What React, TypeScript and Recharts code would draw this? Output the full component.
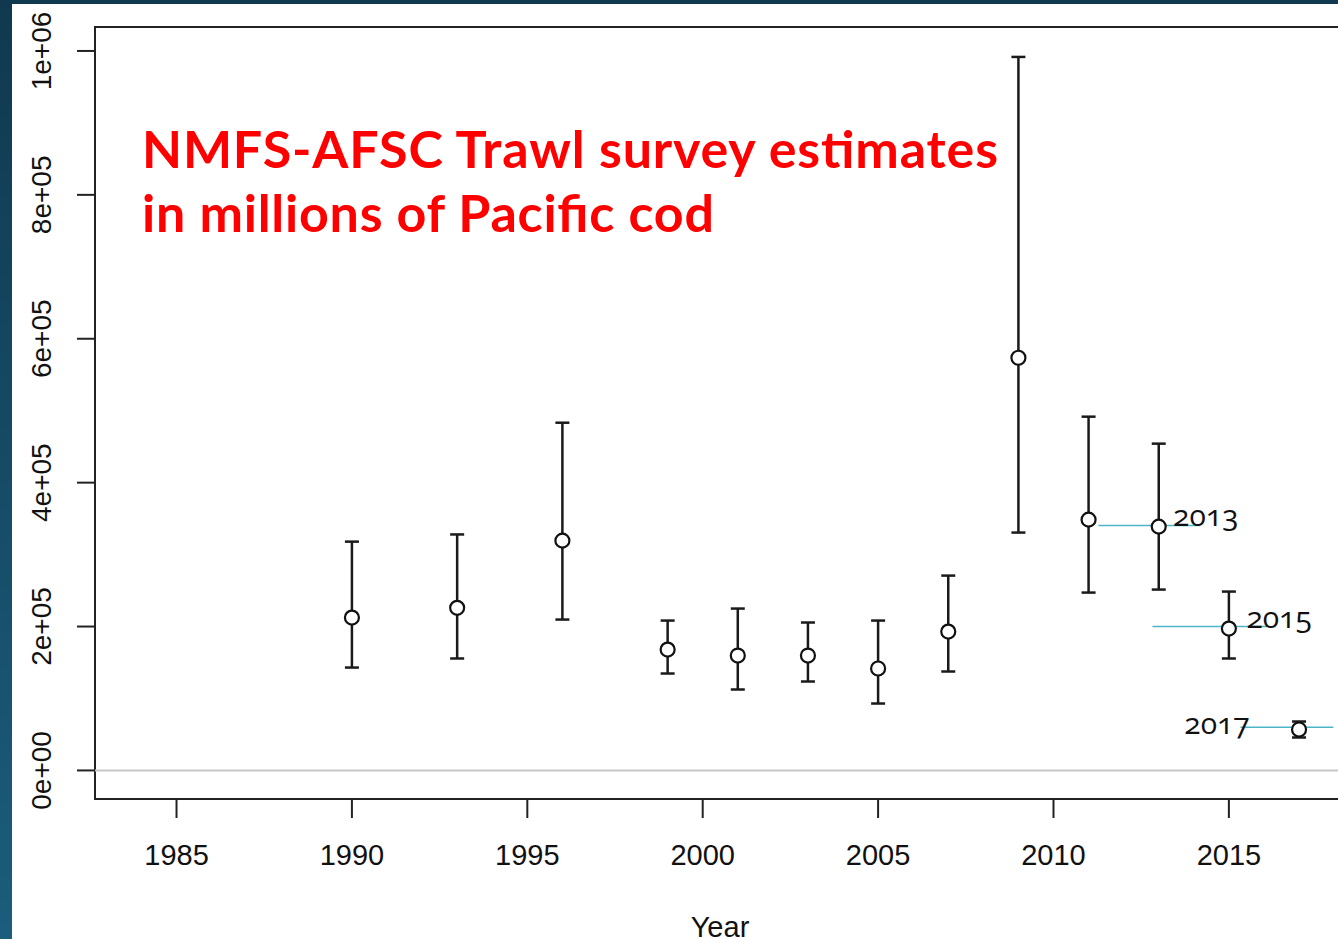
import React from "react";
import {
  ScatterChart,
  Scatter,
  XAxis,
  YAxis,
  ErrorBar,
  ReferenceLine,
  ReferenceArea,
} from "recharts";

// survey estimates (numbers of fish) with lower / upper interval
const years = [1990, 1993, 1996, 1999, 2001, 2003, 2005, 2007, 2009, 2011, 2013, 2015, 2017];
const estimates = [212500, 226000, 319400, 168000, 159700, 159700, 141700, 193000, 573600, 348600, 338900, 197200, 56900];
const lower = [143000, 155600, 209700, 134700, 112500, 123600, 93000, 137500, 330600, 247200, 251400, 155600, 45800];
const upper = [318000, 328000, 483300, 208300, 225000, 205600, 208300, 270800, 991700, 491700, 454200, 248600, 68000];

const xTicks = [1985, 1990, 1995, 2000, 2005, 2010, 2015];
const yTicks = [0, 200000, 400000, 600000, 800000, 1000000];
const yTickLabels = ["0e+00", "2e+05", "4e+05", "6e+05", "8e+05", "1e+06"];

// cyan guide lines drawn on the slide
const guideValues = [340300, 200000, 60100];
const guideFrom = [2011.28, 2012.82, 2015.33];
const guideTo = [2014.18, 2016.1, 2017.98];

// year labels written next to the last surveys
const noteText = ["2013", "2015", "2017"];
const noteYear = [2013.41, 2015.5, 2013.73];
const noteValue = [340000, 198600, 50000];

const titleLines = ["NMFS-AFSC Trawl survey estimates", "in millions of Pacific cod"];

const xDomain = [1982.676, 2018.31];
const yDomain = [-39700, 1033300];

const rows = years.map((year, i) => ({
  year,
  value: estimates[i],
  err: [estimates[i] - lower[i], upper[i] - estimates[i]],
}));

const notes = noteText.map((text, i) => ({ year: noteYear[i], value: noteValue[i], text }));

const axisFont = "'Liberation Sans', Arial, sans-serif";

function XTick(props: any) {
  const { x, y, payload } = props;
  return (
    <text x={x} y={y + 45} textAnchor="middle" fontSize={29} fontFamily={axisFont} fill="#111">
      {payload.value}
    </text>
  );
}

function YTick(props: any) {
  const { x, y, payload } = props;
  const bx = x - 24;
  const idx = yTicks.indexOf(payload.value);
  return (
    <text
      x={bx}
      y={y}
      transform={`rotate(-90, ${bx}, ${y})`}
      textAnchor="middle"
      fontSize={28}
      fontFamily={axisFont}
      fill="#111"
    >
      {yTickLabels[idx]}
    </text>
  );
}

function OpenPoint(props: any) {
  const { cx, cy } = props;
  return <circle cx={cx} cy={cy} r={7} fill="#fff" stroke="#111" strokeWidth={2.2} />;
}

function NoteText(props: any) {
  const { cx, cy, payload } = props;
  return (
    <text
      x={cx}
      y={cy}
      fontSize={30}
      fontFamily="'Open Sans', sans-serif"
      style={{ fontVariantNumeric: "oldstyle-nums" }}
      fill="#111"
    >
      {payload.text}
    </text>
  );
}

export default function App() {
  return (
    <div
      style={{
        position: "absolute",
        left: 0,
        top: 0,
        width: 1338,
        height: 939,
        overflow: "hidden",
        background: "linear-gradient(to bottom, #10394f, #1b5d7c)",
      }}
    >
      <div style={{ position: "absolute", left: 12, top: 4, right: 0, bottom: 0, background: "#fff" }} />
      <div style={{ position: "absolute", left: 0, top: 0 }}>
        <ScatterChart width={1400} height={939} margin={{ top: 27, right: 55, bottom: 0, left: 0 }}>
          <XAxis
            type="number"
            dataKey="year"
            domain={xDomain}
            ticks={xTicks}
            allowDataOverflow
            axisLine={false}
            tickLine={{ stroke: "#222", strokeWidth: 2 }}
            tickSize={19}
            height={140}
            tick={<XTick />}
            label={{ value: "Year", position: "insideBottom", offset: 2, fontSize: 29, fontFamily: axisFont, fill: "#111" }}
          />
          <YAxis
            type="number"
            dataKey="value"
            domain={yDomain}
            ticks={yTicks}
            allowDataOverflow
            axisLine={false}
            tickLine={{ stroke: "#222", strokeWidth: 2 }}
            tickSize={18}
            width={95}
            tick={<YTick />}
          />
          <ReferenceLine y={0} stroke="#c8c8c8" strokeWidth={2} />
          <ReferenceArea
            x1={xDomain[0]}
            x2={xDomain[1]}
            y1={yDomain[0]}
            y2={yDomain[1]}
            fill="none"
            stroke="#222"
            strokeWidth={2}
          />
          {guideValues.map((v, i) => (
            <ReferenceLine
              key={i}
              segment={[
                { x: guideFrom[i], y: v },
                { x: guideTo[i], y: v },
              ]}
              stroke="#4db6c6"
              strokeWidth={1.5}
            />
          ))}
          <Scatter data={rows} shape={<OpenPoint />} isAnimationActive={false}>
            <ErrorBar dataKey="err" direction="y" width={7} stroke="#1a1a1a" strokeWidth={2.5} />
          </Scatter>
          <Scatter data={notes} shape={<NoteText />} isAnimationActive={false} />
        </ScatterChart>
      </div>
      <svg
        width={1000}
        height={260}
        style={{ position: "absolute", left: 0, top: 0, pointerEvents: "none" }}
      >
        <g fill="#ff0000" fontFamily="Lato, 'Open Sans', sans-serif" fontWeight={700} fontSize={52}>
          <text x={142} y={168} textLength={856} lengthAdjust="spacing">
            {titleLines[0]}
          </text>
          <text x={142} y={232} textLength={572} lengthAdjust="spacing">
            {titleLines[1]}
          </text>
        </g>
      </svg>
    </div>
  );
}
